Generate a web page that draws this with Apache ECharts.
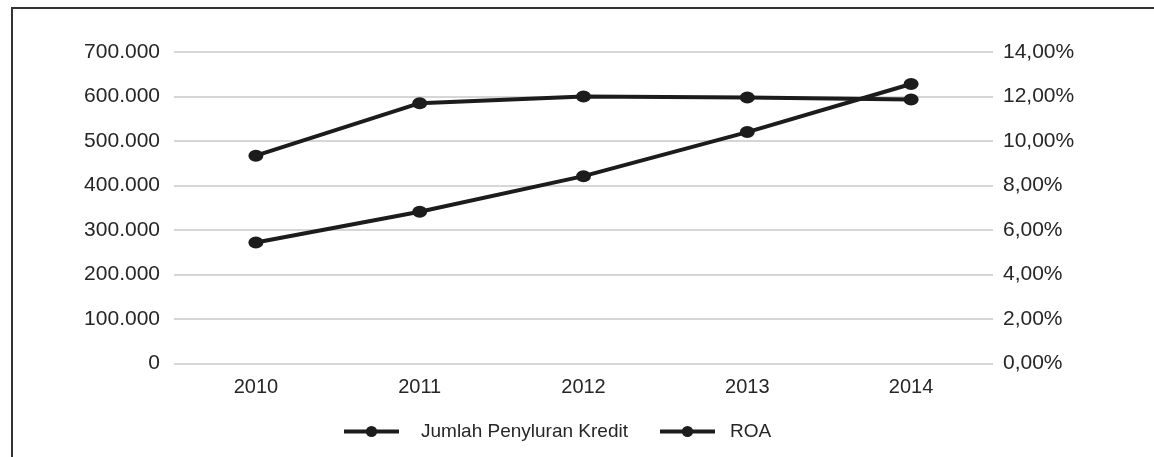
<!DOCTYPE html>
<html>
<head>
<meta charset="utf-8">
<script src="https://cdn.jsdelivr.net/npm/echarts@6/dist/echarts.min.js"></script>
<style>
html,body{margin:0;padding:0;background:#fff;}
#chart{width:1154px;height:457px;}
</style>
</head>
<body>
<div id="chart"></div>
<script>
const categories = ['2010', '2011', '2012', '2013', '2014'];
const kredit = [272000, 341000, 421000, 520000, 628000];
const roa = [9.34, 11.70, 12.00, 11.96, 11.87];
const seriesNames = ['Jumlah Penyluran Kredit', 'ROA'];

const FONT = '"Liberation Sans", Arial, Helvetica, sans-serif';
const TXT = '#262626';
const LINE = '#1c1c1c';

function fmtThousand(v) {
  return String(v).replace(/\B(?=(\d{3})+(?!\d))/g, '.');
}
function fmtPct(v) {
  return v.toFixed(2).replace('.', ',') + '%';
}

const chart = echarts.init(document.getElementById('chart'));
chart.setOption({
  backgroundColor: '#fff',
  animation: false,
  grid: { left: 174, right: 161, top: 52, bottom: 93.5, containLabel: false },
  legend: {
    left: 337,
    top: 417,
    itemWidth: 55,
    itemHeight: 14,
    itemGap: 30,
    lineStyle: { width: 4 },
    textStyle: { fontFamily: FONT, fontSize: 19, color: TXT },
    data: [
      { name: seriesNames[0], textStyle: { padding: [0, 0, 0, 17] } },
      { name: seriesNames[1], textStyle: { padding: [0, 0, 0, 10] } }
    ]
  },
  xAxis: {
    type: 'category',
    data: categories,
    boundaryGap: true,
    axisLine: { show: false },
    axisTick: { show: false },
    axisLabel: { margin: 14, fontFamily: FONT, fontSize: 20, color: TXT }
  },
  yAxis: [
    {
      type: 'value',
      min: 0, max: 700000, interval: 100000,
      axisLine: { show: false },
      axisTick: { show: false },
      splitLine: { lineStyle: { color: '#c8c8c8', width: 1.5 } },
      axisLabel: { margin: 14, fontFamily: FONT, fontSize: 21, color: TXT, formatter: fmtThousand }
    },
    {
      type: 'value',
      min: 0, max: 14, interval: 2,
      position: 'right',
      axisLine: { show: false },
      axisTick: { show: false },
      splitLine: { show: false },
      axisLabel: { margin: 10, fontFamily: FONT, fontSize: 21, color: TXT, formatter: fmtPct }
    }
  ],
  series: [
    {
      name: seriesNames[0],
      type: 'line',
      yAxisIndex: 0,
      data: kredit,
      symbol: 'circle',
      symbolSize: [15, 12],
      lineStyle: { color: LINE, width: 4 },
      itemStyle: { color: LINE },
      z: 3
    },
    {
      name: seriesNames[1],
      type: 'line',
      yAxisIndex: 1,
      data: roa,
      symbol: 'circle',
      symbolSize: [15, 12],
      lineStyle: { color: LINE, width: 4 },
      itemStyle: { color: LINE },
      z: 3
    }
  ],
  graphic: [
    {
      type: 'polyline',
      shape: { points: [[12, 457], [12, 8], [1154, 8]] },
      style: { stroke: '#333', lineWidth: 2, fill: null }
    }
  ]
});
</script>
</body>
</html>
